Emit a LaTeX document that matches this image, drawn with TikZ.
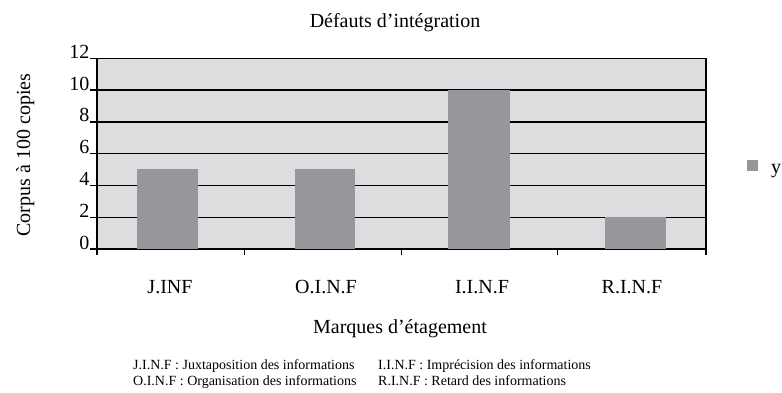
\documentclass[tikz,border=0pt]{standalone}
\usepackage{fontspec}
\setmainfont{Liberation Serif}
\usepackage{amsmath}

\definecolor{plotbg}{HTML}{DCDDDF}
\definecolor{barfill}{HTML}{96979B}

\begin{document}
\begin{tikzpicture}[x=1pt,y=-1pt,auto]
                    \useasboundingbox (0,0) rectangle (782,393);
                    % plot area and grid
                    \fill[plotbg] (97,58.3) rectangle (706,249);
                    \begin{scope}[every path/.style={draw=black,line width=1.3pt}]
                        \draw (90,58.3) -- (706,58.3);
                        \draw (90,90.1) -- (706,90.1);
                        \draw (90,121.9) -- (706,121.9);
                        \draw (90,153.7) -- (706,153.7);
                        \draw (90,185.4) -- (706,185.4);
                        \draw (90,217.2) -- (706,217.2);
                        \draw (90,249) -- (706,249);
                        \draw (97,58.3) -- (97,255);
                        \draw (706,58.3) -- (706,255);
                        \draw (244.3,249) -- (244.3,255);
                        \draw (401.7,249) -- (401.7,255);
                        \draw (557.7,249) -- (557.7,255);
                    \end{scope}
                    % bars
                    \begin{scope}[every path/.style={fill=barfill}]
                        \fill (137.3,249) rectangle (197.7,169.5);
                        \fill (294.5,249) rectangle (355,169.5);
                        \fill (448.3,249) rectangle (509.7,90.1);
                        \fill (605.3,249) rectangle (665.7,217.2);
                    \end{scope}
                    % axis values
                    \begin{scope}[every node/.style={anchor=base east,inner sep=0pt,font=\fontsize{20}{22}\selectfont}]
                        \node (v0) at (89.5,249) {0};
                        \node (v2) at (89.5,217.2) {2};
                        \node (v4) at (89.5,185.4) {4};
                        \node (v6) at (89.5,153.7) {6};
                        \node (v8) at (89.5,121.9) {8};
                        \node (v10) at (89.5,90.1) {10};
                        \node (v12) at (89.5,58.3) {12};
                    \end{scope}
                    % categories, titles and legend
                    \begin{scope}[every node/.style={anchor=base,inner sep=0pt,font=\fontsize{20}{22}\selectfont}]
                        \node (jinf) at (170,293) {J.INF};
                        \node (oinf) at (326,293) {O.I.N.F};
                        \node (iinf) at (482,293) {I.I.N.F};
                        \node (rinf) at (632,293) {R.I.N.F};
                        \node (title) at (395,28) {Défauts d’intégration};
                        \node (xlabel) at (400,333) {Marques d’étagement};
                        \node[rotate=90] (ylabel) at (30,155) {Corpus à 100 copies};
                        \node[anchor=base west] (serie) at (771,174) {y};
                    \end{scope}
                    \fill[barfill] (746.7,160.5) rectangle (758,171.5);
                    % key to the abbreviations
                    \begin{scope}[every node/.style={anchor=base west,inner sep=0pt,font=\fontsize{14}{16}\selectfont}]
                        \node (keyj) at (133,369) {J.I.N.F : Juxtaposition des informations};
                        \node (keyo) at (133,385) {O.I.N.F : Organisation des informations};
                        \node (keyi) at (378,369) {I.I.N.F : Imprécision des informations};
                        \node (keyr) at (378,385) {R.I.N.F : Retard des informations};
                    \end{scope}
                \end{tikzpicture}
\end{document}
